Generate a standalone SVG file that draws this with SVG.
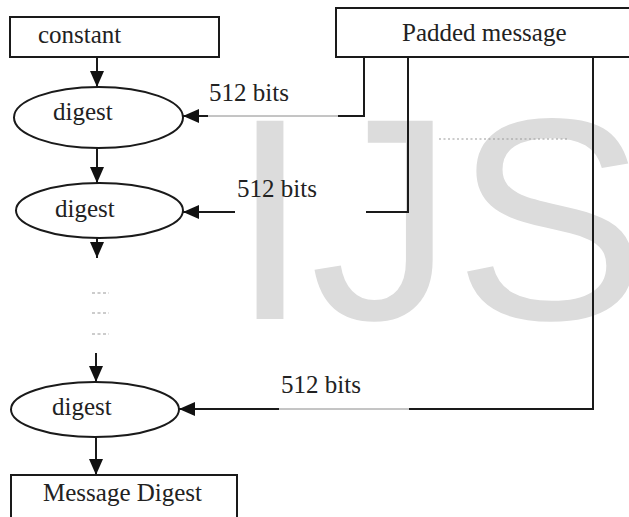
<svg xmlns="http://www.w3.org/2000/svg" width="629" height="517" viewBox="0 0 629 517">
<style>
.box{fill:#fff;stroke:#1a1a1a;stroke-width:2}
.ell{fill:#fff;stroke:#1a1a1a;stroke-width:2}
.lbl{font-family:"Liberation Serif","Times New Roman",serif;font-size:25px;fill:#222}
.ln{fill:none;stroke:#1a1a1a;stroke-width:2}
.thin{fill:none;stroke:#8a8a8a;stroke-width:1}
.dots{fill:none;stroke:#999;stroke-width:1.2;stroke-dasharray:3,2.5}
.wm{font-family:"Liberation Sans",Arial,sans-serif;font-size:288px;fill:#dcdcdc}
</style>
<defs>
<marker id="ah" markerUnits="userSpaceOnUse" markerWidth="18" markerHeight="14" viewBox="0 0 16 14" refX="16" refY="7" orient="auto">
<path d="M0,0 L16,7 L0,14 Z" fill="#111"/>
</marker>
</defs>
<rect width="629" height="517" fill="#fff"/>
<text class="wm" x="230" y="319">IJS</text>
<g id="connectors">
<line class="ln" x1="97" y1="57" x2="97" y2="87" marker-end="url(#ah)"/>
<line class="ln" x1="97" y1="148" x2="97" y2="183" marker-end="url(#ah)"/>
<line class="ln" x1="97" y1="238" x2="97" y2="258" marker-end="url(#ah)"/>
<line class="ln" x1="96" y1="353" x2="96" y2="382" marker-end="url(#ah)"/>
<line class="ln" x1="96" y1="437" x2="96" y2="475" marker-end="url(#ah)"/>
<line class="dots" x1="92" y1="293" x2="109" y2="293"/>
<line class="dots" x1="92" y1="313" x2="109" y2="313"/>
<line class="dots" x1="92" y1="334" x2="109" y2="334"/>
<path class="ln" d="M364,57 V116 H338"/>
<line class="thin" x1="338" y1="116" x2="207" y2="116"/>
<line class="ln" x1="208" y1="116" x2="183" y2="116" marker-end="url(#ah)"/>
<path class="ln" d="M408,57 V212 H366"/>
<line class="ln" x1="235" y1="212" x2="183" y2="212" marker-end="url(#ah)"/>
<path class="ln" d="M593,57 V409 H409"/>
<line class="thin" x1="409" y1="409" x2="278" y2="409"/>
<line class="ln" x1="279" y1="409" x2="179" y2="409" marker-end="url(#ah)"/>
<line class="dots" x1="439" y1="139" x2="569" y2="139" style="stroke-dasharray:2,2.5"/>
<text class="lbl" x="209" y="101">512 bits</text>
<text class="lbl" x="237" y="197">512 bits</text>
<text class="lbl" x="281" y="393">512 bits</text>
</g>
<g id="constant">
<rect class="box" x="10" y="17" width="209" height="40"/>
<text class="lbl" x="38" y="43">constant</text>
</g>
<g id="padded">
<rect class="box" x="336" y="8" width="300" height="49"/>
<text class="lbl" x="402" y="41">Padded message</text>
</g>
<g id="digest1">
<ellipse class="ell" cx="98.5" cy="117.5" rx="84.5" ry="30.5"/>
<text class="lbl" x="53" y="120">digest</text>
</g>
<g id="digest2">
<ellipse class="ell" cx="99.5" cy="210.5" rx="83.5" ry="27.5"/>
<text class="lbl" x="55" y="217">digest</text>
</g>
<g id="digest3">
<ellipse class="ell" cx="95" cy="409.5" rx="84" ry="27.5"/>
<text class="lbl" x="52" y="415">digest</text>
</g>
<g id="md">
<rect class="box" x="11" y="475" width="226" height="50"/>
<text class="lbl" x="43" y="501">Message Digest</text>
</g>
</svg>
